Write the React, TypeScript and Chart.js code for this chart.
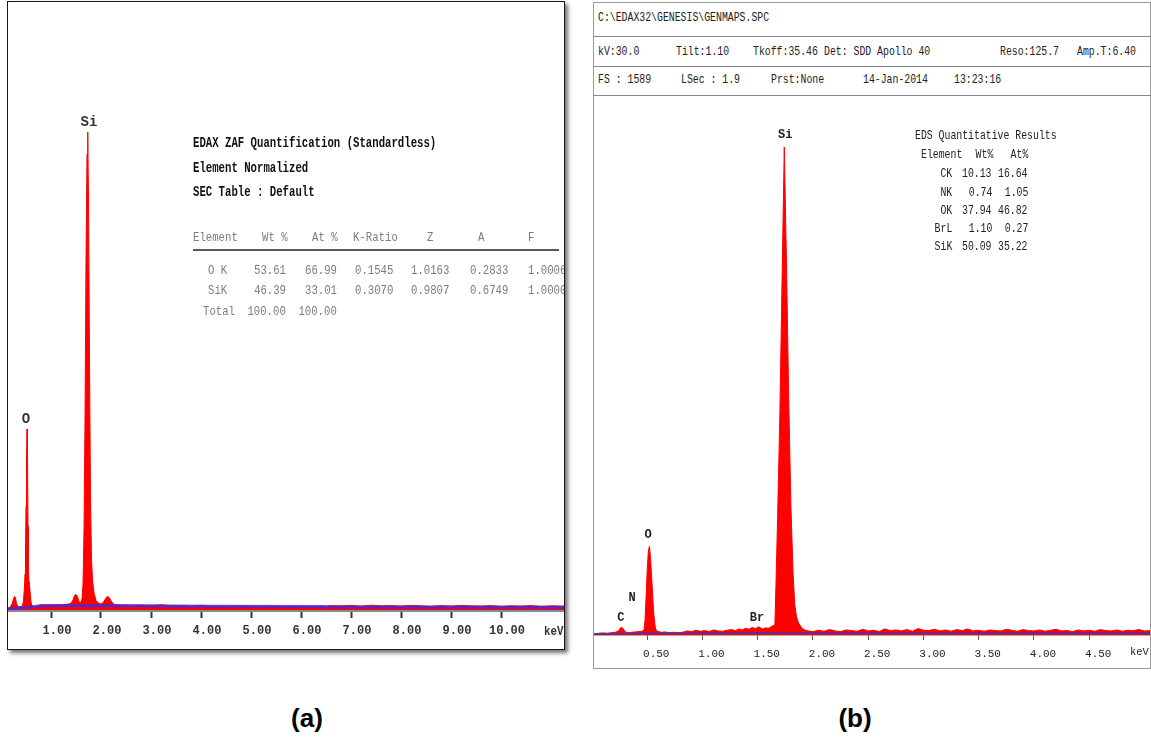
import React, { useEffect, useRef } from "react";
import { Chart, registerables } from "chart.js";
Chart.register(...registerables);

// ---------- Panel (a) spectrum ----------
const ENERGY_A = [
  0.14, 0.18, 0.22, 0.25, 0.27, 0.29, 0.31, 0.34, 0.37, 0.4, 0.43, 0.45, 0.47, 0.48, 0.49, 0.5, 0.51, 0.52, 0.53, 0.54, 0.55, 0.56, 0.57, 0.58, 0.6, 0.62, 0.65, 0.7, 0.75, 0.8,
  0.85, 0.9, 0.95, 1.0, 1.05, 1.1, 1.15, 1.2, 1.25, 1.3, 1.35, 1.4, 1.44, 1.47, 1.5, 1.53, 1.56, 1.59, 1.62,
  1.64, 1.66, 1.68, 1.7, 1.72, 1.735, 1.75, 1.77, 1.79, 1.81, 1.83, 1.86, 1.9, 1.95,
  2.0, 2.04, 2.08, 2.11, 2.14, 2.17, 2.2, 2.24, 2.28,
  2.4, 2.6, 2.8, 3.0, 3.2, 3.4, 3.6, 3.8, 4.0, 4.2, 4.4, 4.6, 4.8, 5.0, 5.2, 5.4, 5.6, 5.8, 6.0, 6.2, 6.4, 6.6, 6.8, 7.0, 7.2, 7.4, 7.6, 7.8, 8.0, 8.2, 8.4, 8.6, 8.8, 9.0, 9.2, 9.4, 9.6, 9.8, 10.0, 10.2, 10.4, 10.6, 10.8, 11.0, 11.2, 11.28,
];
const COUNTS_A = [
  8, 14, 30, 55, 68, 60, 32, 18, 16, 18, 24, 45, 120, 180, 300, 520, 760, 905, 780, 420, 200, 140, 125, 95, 40, 22, 18, 16, 20, 22,
  24, 21, 26, 23, 25, 22, 27, 24, 26, 28, 30, 34, 50, 72, 78, 66, 42, 36, 55,
  130, 400, 950, 1750, 2280, 2390, 2050, 1250, 560, 260, 150, 85, 48, 34,
  30, 36, 52, 64, 68, 60, 46, 32, 26,
  22, 20, 24, 21, 26, 20, 22, 19, 24, 18, 19, 17, 21, 18, 17, 19, 16, 18, 17, 16, 18, 22, 21, 23, 20, 24, 21, 22, 20, 23, 21, 19, 22, 20, 23, 21, 20, 22, 19, 21, 20, 22, 19, 21, 20, 20,
];
const BG_ENERGY_A = [0.14, 0.6, 0.8, 2.3, 4.0, 6.4, 6.5, 11.28];
const BG_COUNTS_A = [6, 14, 22, 22, 19, 18, 15, 13];
const TICKS_A = [1, 2, 3, 4, 5, 6, 7, 8, 9, 10];
const PEAK_NAMES_A = ["O", "Si"];
const PEAK_KEV_A = [0.5, 1.76];
const PEAK_LABEL_COUNTS_A = [955, 2440];

// ---------- Panel (a) quantification table ----------
const TITLE_A = ["EDAX ZAF Quantification (Standardless)", "Element Normalized", "SEC Table : Default"];
const HEAD_A = ["Element", "Wt %", "At %", "K-Ratio", "Z", "A", "F"];
const ELEM_A = ["O K", "SiK", "Total"];
const WT_A = ["53.61", "46.39", "100.00"];
const AT_A = ["66.99", "33.01", "100.00"];
const KR_A = ["0.1545", "0.3070", ""];
const Z_A = ["1.0163", "0.9807", ""];
const ABS_A = ["0.2833", "0.6749", ""];
const F_A = ["1.0006", "1.0000", ""];

// ---------- Panel (b) spectrum ----------
const ENERGY_B = [
  0.02, 0.06, 0.1, 0.14, 0.18, 0.21, 0.24, 0.26, 0.28, 0.3, 0.33, 0.36, 0.39, 0.42, 0.45,
  0.47, 0.48, 0.49, 0.5, 0.51, 0.52, 0.53, 0.54, 0.55, 0.56, 0.57, 0.58, 0.6, 0.63, 0.66, 0.7, 0.74, 0.78, 0.82,
  0.86, 0.9, 0.94, 0.98, 1.02, 1.06, 1.1, 1.14, 1.18, 1.22, 1.26, 1.3, 1.33, 1.36, 1.39, 1.42, 1.45, 1.48, 1.51, 1.54, 1.57, 1.6, 1.63,
  1.655, 1.665, 1.68, 1.7, 1.72, 1.74, 1.76, 1.78, 1.8, 1.82, 1.835, 1.85, 1.87, 1.9, 1.93,
  1.96, 2.0, 2.05, 2.1, 2.15, 2.2, 2.25, 2.3, 2.35, 2.4, 2.45, 2.5, 2.55, 2.6, 2.65, 2.7, 2.75, 2.8, 2.85, 2.9, 2.95, 3.0, 3.05, 3.1, 3.15, 3.2, 3.25, 3.3, 3.35, 3.4, 3.45, 3.5, 3.55, 3.6, 3.65, 3.7, 3.75, 3.8, 3.85, 3.9, 3.95, 4.0, 4.05, 4.1, 4.15, 4.2, 4.25, 4.3, 4.35, 4.4, 4.45, 4.5, 4.55, 4.6, 4.65, 4.7, 4.75, 4.8, 4.85, 4.9, 4.95, 5.0, 5.05,
];
const COUNTS_B = [
  4, 5, 6, 5, 7, 8, 12, 22, 20, 9, 7, 8, 9, 10, 11,
  14, 45, 115, 195, 248, 262, 225, 170, 110, 60, 28, 14, 10, 8, 9, 7, 8, 7, 8,
  12, 10, 14, 11, 13, 10, 15, 12, 11, 14, 16, 13, 18, 15, 20, 17, 22, 19, 24, 18, 21, 20, 26,
  30, 150, 350, 650, 1050, 1441, 1100, 700, 380, 180, 90, 55, 35, 20, 14,
  12, 10, 14, 11, 16, 12, 10, 15, 13, 11, 17, 12, 14, 10, 18, 13, 15, 12, 16, 11, 19, 14, 13, 17, 12, 15, 11, 16, 13, 18, 12, 14, 11, 15, 13, 12, 17, 14, 11, 16, 13, 12, 15, 11, 14, 17, 12, 13, 10, 15, 12, 14, 11, 16, 13, 12, 15, 11, 14, 13, 16, 12, 13,
];
const BG_ENERGY_B = [0.02, 0.5, 0.85, 0.86, 2.0, 5.05];
const BG_COUNTS_B = [4, 5, 5, 6, 6, 6];
const TICKS_B = [0.5, 1.0, 1.5, 2.0, 2.5, 3.0, 3.5, 4.0, 4.5];
const PEAK_NAMES_B = ["C", "N", "O", "Br", "Si"];
const PEAK_KEV_B = [0.262, 0.362, 0.507, 1.493, 1.748];
const PEAK_LABEL_COUNTS_B = [50, 109, 295, 50, 1476];

// ---------- Panel (b) header and results ----------
const HEADER_ROW1_B = ["C:\\EDAX32\\GENESIS\\GENMAPS.SPC"];
const HEADER_ROW2_B = ["kV:30.0", "Tilt:1.10", "Tkoff:35.46", "Det: SDD Apollo 40", "Reso:125.7", "Amp.T:6.40"];
const HEADER_ROW3_B = ["FS : 1589", "LSec : 1.9", "Prst:None", "14-Jan-2014", "13:23:16"];
const ELEM_B = ["CK", "NK", "OK", "BrL", "SiK"];
const WT_B = ["10.13", "0.74", "37.94", "1.10", "50.09"];
const AT_B = ["16.64", "1.05", "46.82", "0.27", "35.22"];

type Pt = { x: number; y: number };
const zip = (xs: number[], ys: number[]): Pt[] => xs.map((x, i) => ({ x, y: ys[i] }));

type SpecCfg = {
  energy: number[];
  counts: number[];
  bgE: number[];
  bgC: number[];
  ticks: number[];
  names: string[];
  kev: number[];
  labelAt: number[];
  xmin: number;
  xmax: number;
  ymax: number;
  padTop: number;
  axisH: number;
  blue: string;
  blueWidth: number;
  labelFont: string;
  labelColor: string;
  tickFont: any;
  tickColor: string;
  tickPad: number;
  labelOffset: number;
  tickLen: number;
  tickMarkColor: string;
  tickMarkWidth: number;
  borderColor: string;
  borderWidth: number;
  width: number;
  height: number;
};

function Spectrum({ cfg, left, top }: { cfg: SpecCfg; left: number; top: number }) {
  const ref = useRef<HTMLCanvasElement | null>(null);
  useEffect(() => {
    if (!ref.current) return;
    const labelPlugin = {
      id: "peakLabels",
      afterDatasetsDraw(chart: any) {
        const { ctx } = chart;
        const xs = chart.scales.x;
        const ys = chart.scales.y;
        ctx.save();
        ctx.font = cfg.labelFont;
        ctx.fillStyle = cfg.labelColor;
        ctx.textAlign = "center";
        ctx.textBaseline = "middle";
        cfg.names.forEach((n, i) => {
          ctx.fillText(n, xs.getPixelForValue(cfg.kev[i]), ys.getPixelForValue(cfg.labelAt[i]));
        });
        ctx.restore();
      },
    };
    const chart = new Chart(ref.current, {
      type: "line",
      data: {
        datasets: [
          {
            data: zip(cfg.energy, cfg.counts),
            borderColor: "#ff0000",
            backgroundColor: "#ff0000",
            borderWidth: 1,
            fill: "origin",
            pointRadius: 0,
            tension: 0,
            order: 2,
          },
          {
            data: zip(cfg.bgE, cfg.bgC),
            borderColor: cfg.blue,
            borderWidth: cfg.blueWidth,
            fill: false,
            pointRadius: 0,
            tension: 0,
            order: 1,
          },
        ],
      },
      options: {
        animation: false,
        responsive: false,
        maintainAspectRatio: false,
        layout: { padding: { top: cfg.padTop, left: 0, right: 0, bottom: 0 } },
        plugins: { legend: { display: false }, tooltip: { enabled: false } },
        scales: {
          x: {
            type: "linear",
            min: cfg.xmin,
            max: cfg.xmax,
            afterFit: (s: any) => {
              s.height = cfg.axisH;
            },
            afterBuildTicks: (s: any) => {
              s.ticks = cfg.ticks.map((v) => ({ value: v }));
            },
            grid: {
              display: true,
              drawOnChartArea: false,
              drawTicks: true,
              tickLength: cfg.tickLen,
              tickColor: cfg.tickMarkColor,
              tickWidth: cfg.tickMarkWidth,
            },
            border: { display: true, color: cfg.borderColor, width: cfg.borderWidth },
            ticks: {
              autoSkip: false,
              maxRotation: 0,
              padding: cfg.tickPad,
              labelOffset: cfg.labelOffset,
              font: cfg.tickFont,
              color: cfg.tickColor,
              callback: (v: any) => Number(v).toFixed(2),
            },
          },
          y: { display: false, min: 0, max: cfg.ymax },
        },
      },
      plugins: [labelPlugin],
    } as any);
    return () => chart.destroy();
  }, [cfg]);
  return (
    <canvas
      ref={ref}
      width={cfg.width}
      height={cfg.height}
      style={{ position: "absolute", left, top, width: cfg.width, height: cfg.height }}
    />
  );
}

const CFG_A: SpecCfg = {
  energy: ENERGY_A,
  counts: COUNTS_A,
  bgE: BG_ENERGY_A,
  bgC: BG_COUNTS_A,
  ticks: TICKS_A,
  names: PEAK_NAMES_A,
  kev: PEAK_KEV_A,
  labelAt: PEAK_LABEL_COUNTS_A,
  xmin: 0.14,
  xmax: 11.26,
  ymax: 3000,
  padTop: 8,
  axisH: 39,
  blue: "rgba(70,40,225,0.85)",
  blueWidth: 3,
  labelFont: "bold 14px 'Liberation Mono', monospace",
  labelColor: "#333",
  tickFont: { family: "'Liberation Mono', monospace", size: 12, weight: "bold" },
  tickColor: "#333",
  tickPad: 6,
  labelOffset: 6,
  tickLen: 8,
  tickMarkColor: "#333",
  tickMarkWidth: 2,
  borderColor: "#8a8a8a",
  borderWidth: 3,
  width: 556,
  height: 647,
};

const CFG_B: SpecCfg = {
  energy: ENERGY_B,
  counts: COUNTS_B,
  bgE: BG_ENERGY_B,
  bgC: BG_COUNTS_B,
  ticks: TICKS_B,
  names: PEAK_NAMES_B,
  kev: PEAK_KEV_B,
  labelAt: PEAK_LABEL_COUNTS_B,
  xmin: 0.018,
  xmax: 5.05,
  ymax: 1589,
  padTop: 1,
  axisH: 33,
  blue: "rgba(60,50,200,0.9)",
  blueWidth: 1.5,
  labelFont: "bold 12px 'Liberation Mono', monospace",
  labelColor: "#222",
  tickFont: { family: "'Liberation Mono', monospace", size: 11 },
  tickColor: "#222",
  tickPad: 7,
  labelOffset: 9,
  tickLen: 5,
  tickMarkColor: "#555",
  tickMarkWidth: 1,
  borderColor: "#555",
  borderWidth: 1.5,
  width: 556,
  height: 572,
};

type TP = {
  x: number;
  y: number;
  s: string;
  size?: number;
  bold?: boolean;
  color?: string;
  sx?: number;
  align?: "left" | "right" | "center";
  family?: string;
  cw?: number;
};

function T({ x, y, s, size = 12, bold = false, color = "#222", sx = 1, align = "left", family = "'Liberation Mono', monospace", cw = 1151 }: TP) {
  const style: React.CSSProperties = {
    position: "absolute",
    top: y - size * 0.6,
    whiteSpace: "pre",
    fontFamily: family,
    fontSize: size,
    fontWeight: bold ? 700 : 400,
    color,
    lineHeight: `${size * 1.2}px`,
  };
  if (align === "right") {
    style.right = cw - x;
    style.transform = `scaleX(${sx})`;
    style.transformOrigin = "right center";
  } else if (align === "center") {
    style.left = x;
    style.transform = `translateX(-50%) scaleX(${sx})`;
    style.transformOrigin = "left center";
  } else {
    style.left = x;
    style.transform = `scaleX(${sx})`;
    style.transformOrigin = "left center";
  }
  return <div style={style}>{s}</div>;
}

export default function App() {
  const greyA = "#7c7c7c";
  const tA = 13;
  const sxA = 6.4 / (tA * 0.6);
  const hA = 14;
  const sxH = 6.4 / (hA * 0.6);
  const fB = 13.5;
  const sxB = 5.9 / (fB * 0.6);
  const rowsA = [271, 291, 312];
  const rowsB = [174, 193, 211, 229, 247];
  const headLeftA = [193, 262, 312, 353, 427, 478, 528];
  const row2X = [598, 676, 753, 824, 1000, 1077];
  const row3X = [598, 681, 771, 863, 954];
  return (
    <div style={{ position: "absolute", left: 0, top: 0, width: 1151, height: 744, background: "#fff", overflow: "hidden" }}>
      {/* Panel (a) */}
      <div
        style={{
          position: "absolute",
          left: 7,
          top: 1,
          width: 558,
          height: 649,
          border: "1px solid #1a1a1a",
          boxSizing: "border-box",
          boxShadow: "3px 3px 4px rgba(0,0,0,0.55)",
          background: "#fff",
        }}
      />
      <Spectrum cfg={CFG_A} left={8} top={2} />
      <div style={{ position: "absolute", left: 0, top: 0, width: 564, height: 649, overflow: "hidden" }}>
        {TITLE_A.map((t, i) => (
          <T key={"ta" + i} x={193} y={[143, 168, 192][i]} s={t} size={hA} bold sx={sxH} color="#111" />
        ))}
        {HEAD_A.map((h, i) => (
          <T key={"ha" + i} x={headLeftA[i]} y={238} s={h} size={tA} sx={sxA} color={greyA} />
        ))}
        <div style={{ position: "absolute", left: 193, top: 249, width: 366, height: 2, background: "#5a5a5a" }} />
        {ELEM_A.map((e, i) => (
          <T key={"ea" + i} x={e === "Total" ? 203 : 208} y={rowsA[i]} s={e} size={tA} sx={sxA} color={greyA} />
        ))}
        {WT_A.map((v, i) => (
          <T key={"wa" + i} x={286} y={rowsA[i]} s={v} size={tA} sx={sxA} color={greyA} align="right" cw={564} />
        ))}
        {AT_A.map((v, i) => (
          <T key={"aa" + i} x={337} y={rowsA[i]} s={v} size={tA} sx={sxA} color={greyA} align="right" cw={564} />
        ))}
        {KR_A.map((v, i) => (
          <T key={"ka" + i} x={355} y={rowsA[i]} s={v} size={tA} sx={sxA} color={greyA} />
        ))}
        {Z_A.map((v, i) => (
          <T key={"za" + i} x={411} y={rowsA[i]} s={v} size={tA} sx={sxA} color={greyA} />
        ))}
        {ABS_A.map((v, i) => (
          <T key={"ba" + i} x={470} y={rowsA[i]} s={v} size={tA} sx={sxA} color={greyA} />
        ))}
        {F_A.map((v, i) => (
          <T key={"fa" + i} x={528} y={rowsA[i]} s={v} size={tA} sx={sxA} color={greyA} />
        ))}
        <T x={544} y={632} s="keV" size={12} bold sx={0.9} color="#333" />
      </div>

      {/* Panel (b) */}
      <div
        style={{
          position: "absolute",
          left: 593,
          top: 2,
          width: 558,
          height: 667,
          border: "1px solid #9a9a9a",
          boxSizing: "border-box",
        }}
      />
      {[36, 66, 95].map((y) => (
        <div key={"l" + y} style={{ position: "absolute", left: 593, top: y, width: 558, height: 1, background: "#8a8a8a" }} />
      ))}
      {HEADER_ROW1_B.map((s, i) => (
        <T key={"r1" + i} x={598} y={18} s={s} size={fB} sx={sxB} />
      ))}
      {HEADER_ROW2_B.map((s, i) => (
        <T key={"r2" + i} x={row2X[i]} y={52} s={s} size={fB} sx={sxB} />
      ))}
      {HEADER_ROW3_B.map((s, i) => (
        <T key={"r3" + i} x={row3X[i]} y={80} s={s} size={fB} sx={sxB} />
      ))}
      <Spectrum cfg={CFG_B} left={594} top={96} />
      <T x={915} y={136} s="EDS Quantitative Results" size={fB} sx={sxB} />
      <T x={921} y={155} s="Element" size={fB} sx={sxB} />
      <T x={993} y={155} s="Wt%" size={fB} sx={sxB} align="right" />
      <T x={1028} y={155} s="At%" size={fB} sx={sxB} align="right" />
      {ELEM_B.map((e, i) => (
        <T key={"eb" + i} x={952} y={rowsB[i]} s={e} size={fB} sx={sxB} align="right" />
      ))}
      {WT_B.map((v, i) => (
        <T key={"wb" + i} x={992} y={rowsB[i]} s={v} size={fB} sx={sxB} align="right" />
      ))}
      {AT_B.map((v, i) => (
        <T key={"ab" + i} x={1028} y={rowsB[i]} s={v} size={fB} sx={sxB} align="right" />
      ))}
      <T x={1130} y={653} s="keV" size={11} sx={0.95} color="#222" />

      {/* Captions */}
      <T x={307} y={719} s="(a)" size={26} bold align="center" family="'Liberation Sans', Arial, sans-serif" color="#000" />
      <T x={855} y={719} s="(b)" size={26} bold align="center" family="'Liberation Sans', Arial, sans-serif" color="#000" />
    </div>
  );
}
